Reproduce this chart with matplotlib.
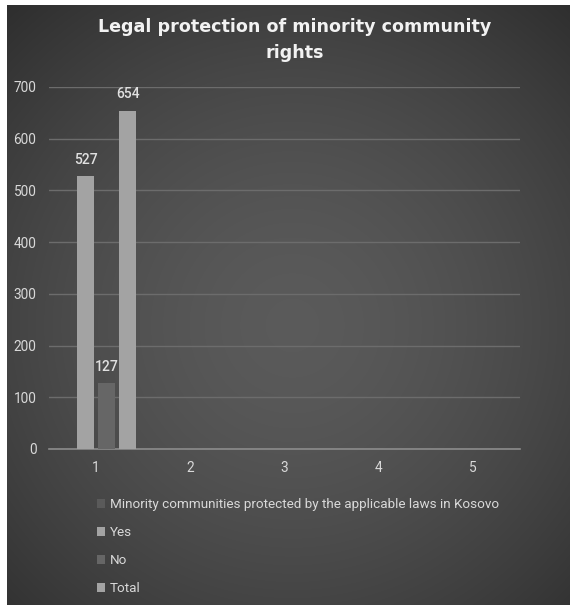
import numpy as np
import matplotlib
matplotlib.use('Agg')
import matplotlib.pyplot as plt

categories = ['1', '2', '3', '4', '5']
series_names = ['Minority communities protected by the applicable laws in Kosovo',
                'Yes', 'No', 'Total']
minority = [0, np.nan, np.nan, np.nan, np.nan]
yes = [527, np.nan, np.nan, np.nan, np.nan]
no = [127, np.nan, np.nan, np.nan, np.nan]
total = [654, np.nan, np.nan, np.nan, np.nan]
colors = ['#5a5a5a', '#a3a3a3', '#666666', '#a3a3a3']

plt.rcParams['font.family'] = ['Roboto', 'DejaVu Sans']

fig = plt.figure(figsize=(5.7, 6.05), dpi=100)
fig.patch.set_facecolor('white')

# dark radial background of the chart area
bg = fig.add_axes([7 / 570, 0, 1 - 7 / 570, 1 - 5 / 605])
bg.set_axis_off()
yy, xx = np.mgrid[0:600, 0:563]
r = np.hypot(xx - 285, yy - 320) / 430
r = np.clip(r, 0, 1)
shade = 0.355 - 0.175 * r ** 1.6
bg.imshow(np.dstack([shade, shade, shade]), aspect='auto', interpolation='bilinear')

ax = fig.add_axes([49 / 570, 1 - 449 / 605, 471 / 570, 362 / 605])
ax.patch.set_alpha(0)

x = np.arange(len(categories))
width = 0.18
offsets = [-0.335, -0.112, 0.112, 0.335]
all_series = [minority, yes, no, total]
handles = []
for vals, off, col, name in zip(all_series, offsets, colors, series_names):
    b = ax.bar(x + off, vals, width, color=col, label=name, zorder=3)
    handles.append(b)
    if name != series_names[0]:
        labels = ['' if np.isnan(v) else '%d' % v for v in vals]
        ax.bar_label(b, labels=labels, padding=7, color='#e0e0e0', fontsize=10,
                     fontweight='medium')

ax.set_xlim(-0.5, 4.5)
ax.set_ylim(0, 700)
ax.set_yticks(range(0, 701, 100))
ax.set_xticks(x)
ax.set_xticklabels(categories)
ax.grid(axis='y', color='#6c6c6c', linewidth=1, zorder=0)
for s in ['top', 'right', 'left']:
    ax.spines[s].set_visible(False)
ax.spines['bottom'].set_color('#8c8c8c')
ax.spines['bottom'].set_linewidth(1.2)
ax.tick_params(axis='both', length=0, colors='#d9d9d9', labelsize=9.8)
ax.tick_params(axis='y', pad=9)
ax.tick_params(axis='x', pad=9)

fig.text(295 / 570, 1 - 40 / 605, 'Legal protection of minority community\nrights',
         ha='center', va='center', fontsize=12.6, fontweight='bold',
         family='DejaVu Sans', color='#f2f2f2', linespacing=1.55)

leg = fig.legend(handles=handles, labels=series_names, loc='upper left',
                 bbox_to_anchor=(90 / 570, 1 - 491 / 605), frameon=False,
                 fontsize=9.7, handlelength=0.65, handleheight=0.65,
                 handletextpad=0.3, labelspacing=1.12, borderpad=0)
for t in leg.get_texts():
    t.set_color('#d9d9d9')

fig.savefig('out.png', dpi=100, facecolor='white')
